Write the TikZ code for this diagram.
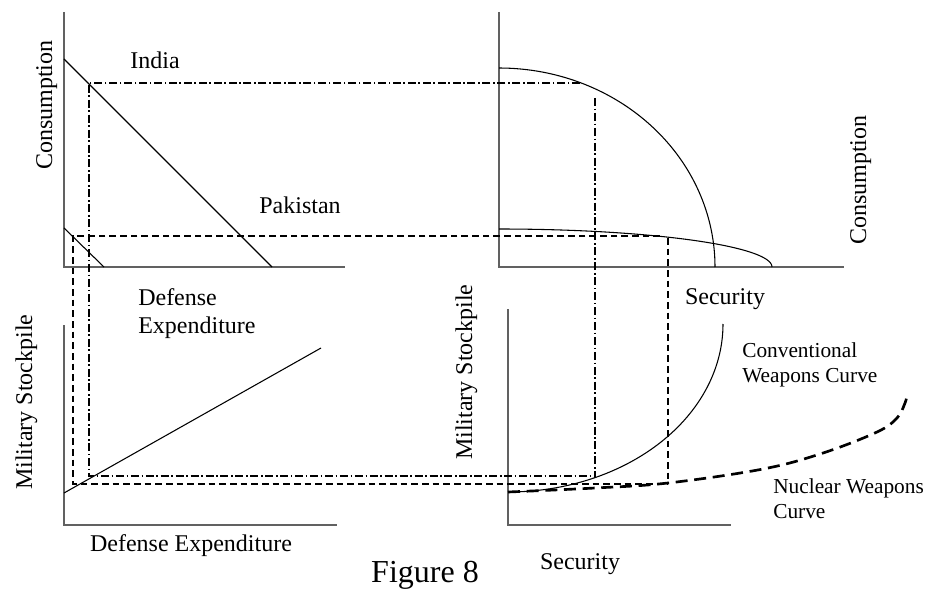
\documentclass[tikz,border=0pt]{standalone}
\usepackage{fontspec}
\setmainfont{Liberation Serif}
\begin{document}
\begin{tikzpicture}[x=0.75pt,y=-0.75pt,
  axisline/.style={draw=black!62, line width=1.3pt},
  curveline/.style={draw=black, line width=0.8pt},
  ddline/.style={draw=black, line width=1pt, dash pattern=on 6pt off 2pt on 1.2pt off 2pt},
  dline/.style={draw=black, line width=1pt, dash pattern=on 5pt off 3pt},
  nucline/.style={draw=black, line width=2pt, dash pattern=on 9pt off 5pt},
  lbl/.style={inner sep=0pt, font=\fontsize{18}{21}\selectfont},
  slbl/.style={inner sep=0pt, font=\fontsize{16}{18.75}\selectfont, align=left},
]
\useasboundingbox (0,0) rectangle (930,588);

% ---- axes ----
\coordinate (tlO) at (64,267);   \coordinate (tlY) at (64,12);   \coordinate (tlX) at (345,267);
\coordinate (trO) at (499,267);  \coordinate (trY) at (499,12);  \coordinate (trX) at (844,267);
\coordinate (blO) at (64,525);   \coordinate (blY) at (64,325);  \coordinate (blX) at (337,525);
\coordinate (brO) at (508,525);  \coordinate (brY) at (508,309); \coordinate (brX) at (731,525);
\draw[axisline] (tlY) -- (tlO) -- (tlX);
\draw[axisline] (trY) -- (trO) -- (trX);
\draw[axisline] (blY) -- (blO) -- (blX);
\draw[axisline] (brY) -- (brO) -- (brX);

% ---- top-left budget lines ----
\coordinate (indA) at (64,59);  \coordinate (indB) at (272,267);
\coordinate (pakA) at (64,228); \coordinate (pakB) at (104,267);
\draw[curveline] (indA) -- (indB);
\draw[curveline] (pakA) -- (pakB);

% ---- top-right frontiers ----
\draw[curveline] plot[domain=0:90, samples=60, smooth] ({499+216*sin(\x)},{267-199*cos(\x)});
\draw[curveline] plot[domain=0:90, samples=60, smooth] ({499+273*sin(\x)},{267-38*cos(\x)});

% ---- bottom-left line ----
\coordinate (msA) at (64,493); \coordinate (msB) at (321,348);
\draw[curveline] (msA) -- (msB);

% ---- bottom-right curves ----
\draw[curveline] plot[domain=0:90, samples=60, smooth] ({508+215*sin(\x)},{324+168*cos(\x)});
\draw[nucline] plot[smooth, tension=0.6] coordinates {(508,492) (595,488) (668,483) (763,469) (823,453) (877,432) (897,418) (905,403) (907,395)};

% ---- dash-dot (India) path ----
\coordinate (ddTL) at (89,83);  \coordinate (ddTR) at (580,83);
\coordinate (ddVT) at (595,98); \coordinate (ddVB) at (595,478);
\coordinate (ddBL) at (89,476); \coordinate (ddBR) at (595,476);
\draw[ddline] (ddTR) -- (ddTL) -- (ddBL) -- (ddBR);
\draw[ddline] (ddVT) -- (ddVB);

% ---- dashed (Pakistan) path ----
\coordinate (dTL) at (73,236);  \coordinate (dTR) at (660,236);
\coordinate (dVT) at (668,238); \coordinate (dVB) at (668,484);
\coordinate (dBL) at (73,484);
\draw[dline] (dTR) -- (dTL) -- (dBL) -- (dVB);
\draw[dline] (dVT) -- (dVB);

% ---- labels ----
\node[lbl, rotate=90, anchor=base west] (consL) at (52,170) {Consumption};
\node[lbl, anchor=base] (india) at (155,69) {India};
\node[lbl, anchor=base] (pak) at (300,213) {Pakistan};
\node[lbl, anchor=north west, align=left] (defE) at (138,288) {Defense\\Expenditure};
\node[lbl, rotate=90, anchor=base west] (consR) at (866,245) {Consumption};
\node[lbl, anchor=base] (secT) at (725,304) {Security};
\node[lbl, rotate=90, anchor=base west] (milL) at (32,490) {Military Stockpile};
\node[lbl, rotate=90, anchor=base west] (milM) at (472,460) {Military Stockpile};
\node[lbl, anchor=base] (defB) at (191,551) {Defense Expenditure};
\node[slbl, anchor=north west] (conv) at (742,342.5) {Conventional\\Weapons Curve};
\node[slbl, anchor=north west] (nuc) at (773,478.5) {Nuclear Weapons\\Curve};
\node[lbl, anchor=base] (secB) at (580,569) {Security};
\node[inner sep=0pt, font=\fontsize{24}{28}\selectfont, anchor=base] (fig) at (425,582) {Figure 8};
\end{tikzpicture}
\end{document}
